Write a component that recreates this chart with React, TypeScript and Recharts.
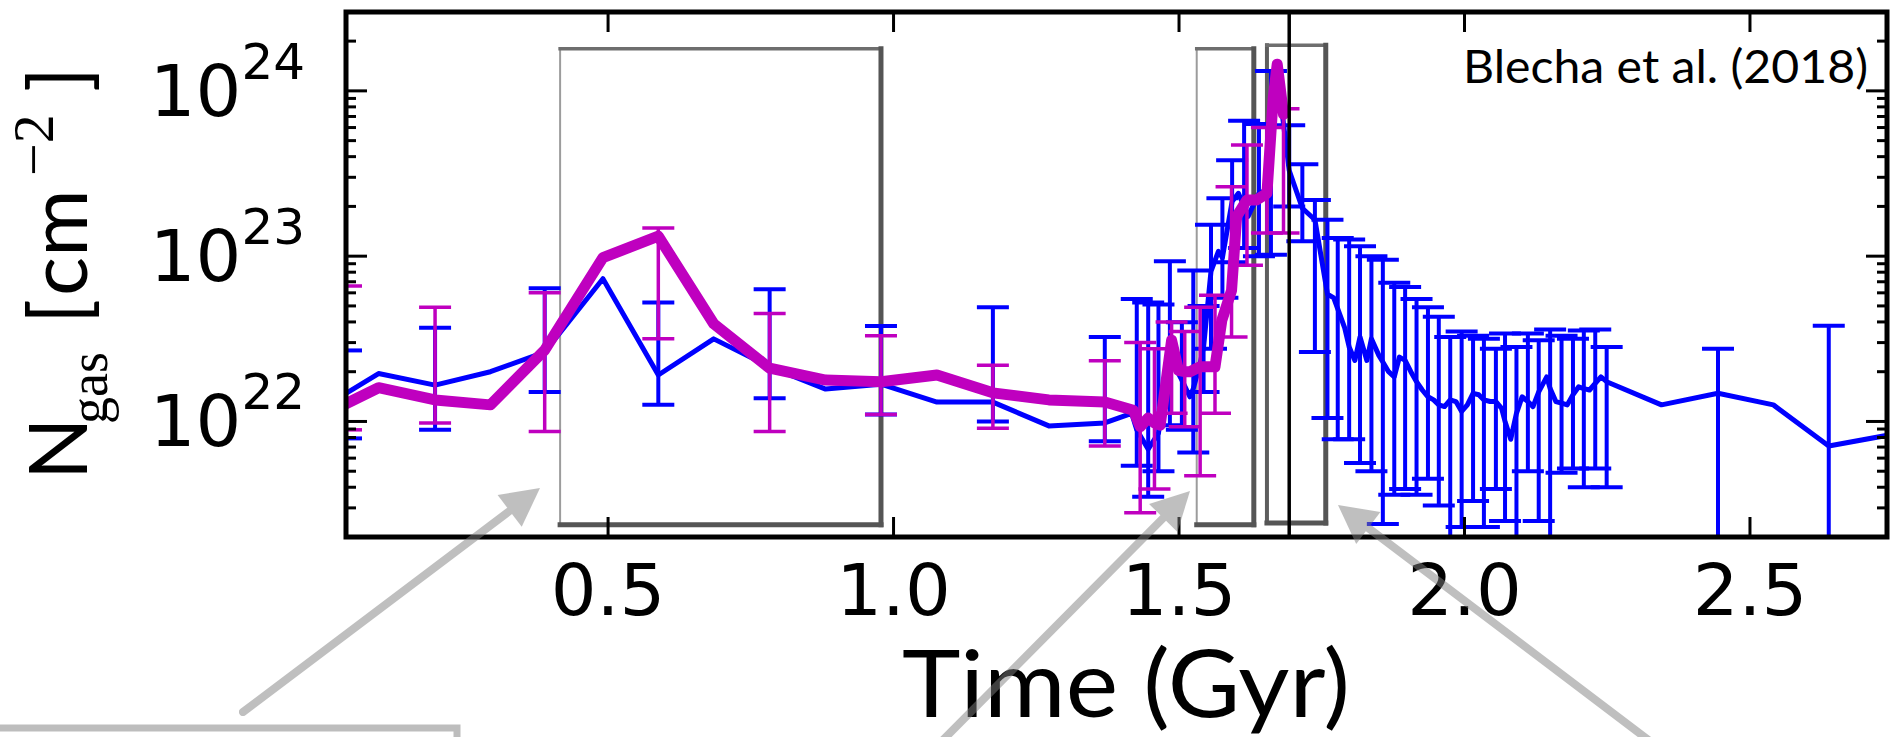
import React from 'react';
import { LineChart, Line, XAxis, YAxis, ErrorBar, ReferenceLine, ReferenceArea } from 'recharts';

// blue run: time (Gyr), column density and error bar ends (null = no bar)
const blueTime = [
  0.041, 0.098, 0.197, 0.294, 0.389, 0.491, 0.588, 0.685, 0.783, 0.881, 0.978, 1.076, 1.174, 1.272, 1.370,
  1.417, 1.426, 1.446, 1.464, 1.484, 1.505, 1.519, 1.525, 1.537, 1.543, 1.556, 1.569, 1.576, 1.593, 1.604,
  1.614, 1.621, 1.640, 1.652, 1.661, 1.672, 1.693, 1.716, 1.738, 1.760, 1.771, 1.778, 1.790, 1.798, 1.808,
  1.817, 1.829, 1.837, 1.850, 1.857, 1.867, 1.877, 1.886, 1.896, 1.906, 1.916, 1.926, 1.936, 1.946, 1.955,
  1.965, 1.975, 1.985, 1.995, 2.005, 2.015, 2.025, 2.034, 2.045, 2.055, 2.065, 2.071, 2.081, 2.091, 2.101,
  2.111, 2.120, 2.130, 2.144, 2.150, 2.160, 2.170, 2.180, 2.190, 2.200, 2.209, 2.219, 2.229, 2.239, 2.249,
  2.345, 2.444, 2.541, 2.638, 2.745,
];
const blueN = [
  1.48e22, 1.95e22, 1.66e22, 2.0e22, 2.63e22, 7.3e22, 1.91e22, 3.16e22, 2.14e22, 1.57e22, 1.68e22, 1.31e22, 1.31e22, 9.4e21, 9.8e21,
  1.12e22, 8.9e21, 6.8e21, 8.5e21, 2.45e22, 1.78e22, 1.41e22, 1.58e22, 2.24e22, 2.82e22, 8.1e22, 1.07e23, 9.8e22, 2.14e23, 2.4e23,
  2.0e23, 1.74e23, 2.4e23, 2.5e23, 5.0e23, 1.29e24, 3.3e23, 1.95e23, 1.66e23, 5.9e22, 5.6e22, 4.8e22, 3.7e22, 2.82e22, 2.34e22,
  3.24e22, 2.34e22, 3.16e22, 2.51e22, 2.29e22, 2.0e22, 1.86e22, 2.45e22, 2.34e22, 2.0e22, 1.74e22, 1.55e22, 1.41e22, 1.35e22, 1.26e22,
  1.23e22, 1.35e22, 1.32e22, 1.15e22, 1.26e22, 1.48e22, 1.45e22, 1.35e22, 1.32e22, 1.32e22, 1.2e22, 1.0e22, 7.8e21, 1.12e22, 1.41e22,
  1.32e22, 1.23e22, 1.51e22, 1.86e22, 1.58e22, 1.32e22, 1.29e22, 1.26e22, 1.45e22, 1.62e22, 1.58e22, 1.55e22, 1.7e22, 1.86e22, 1.74e22,
  1.26e22, 1.48e22, 1.26e22, 7.1e21, 8.3e21,
];
// 2.0e21 = bar runs off the bottom of the axis
const blueLow = [
  7.9e21, null, 8.9e21, null, 1.51e22, null, 1.26e22, null, 1.38e22, null, 1.1e22, null, 1.0e22, null, 7.6e21,
  null, 5.4e21, 3.5e21, 5.0e21, 9.5e21, 8.9e21, null, 6.5e21, null, 1.51e22, 2.75e22, null, 5.6e22, 9.2e22, null,
  1.12e23, null, 1.0e23, null, 1.02e23, null, 2.0e23, 1.23e23, 2.63e22, 1.05e22, null, 7.8e21, null, 7.8e21, null,
  5.6e21, null, 5.0e21, null, 2.4e21, null, 3.6e21, null, 3.9e21, null, 3.6e21, null, 4.5e21, null, 3.1e21,
  null, 2.0e21, null, 2.3e21, null, 3.3e21, null, 2.3e21, null, 3.9e21, null, 2.5e21, null, 2.0e21, null,
  5.0e21, null, 2.5e21, null, 2.0e21, null, 4.9e21, null, 5.2e21, null, 4.0e21, null, 5.2e21, null, 4.0e21,
  null, 2.0e21, null, 2.0e21, null,
];
const blueHigh = [
  2.69e22, null, 3.69e22, null, 6.4e22, null, 5.25e22, null, 6.31e22, null, 3.78e22, null, 4.9e22, null, 3.24e22,
  null, 5.5e22, 5.25e22, 5.1e22, 9.3e22, 3.98e22, null, 8.2e22, null, 5.0e22, 1.55e23, null, 2.24e23, 3.8e23, null,
  6.6e23, null, 6.3e23, null, 1.32e24, null, 6.2e23, 3.6e23, 2.19e23, 1.66e23, null, 1.29e23, null, 1.26e23, null,
  1.15e23, null, 1.0e23, null, 9.5e22, null, 6.9e22, null, 6.5e22, null, 5.5e22, null, 4.9e22, null, 4.3e22,
  null, 3.24e22, null, 3.5e22, null, 3.3e22, null, 3.16e22, null, 2.75e22, null, 3.4e22, null, 2.82e22, null,
  3.4e22, null, 3.1e22, null, 3.6e22, null, 3.3e22, null, 3.16e22, null, 3.55e22, null, 3.6e22, null, 2.82e22,
  null, 2.75e22, null, 3.8e22, null,
];

// magenta run
const magTime = [
  0.041, 0.098, 0.197, 0.294, 0.389, 0.491, 0.588, 0.685, 0.783, 0.881, 0.978, 1.076, 1.174, 1.272, 1.370,
  1.420, 1.432, 1.446, 1.457, 1.467, 1.487, 1.499, 1.510, 1.519, 1.537, 1.550, 1.563, 1.575, 1.592, 1.601,
  1.619, 1.636, 1.654, 1.665, 1.672, 1.683,
];
const magN = [
  1.28e22, 1.6e22, 1.35e22, 1.26e22, 2.7e22, 9.8e22, 1.32e23, 3.9e22, 2.1e22, 1.78e22, 1.74e22, 1.91e22, 1.49e22, 1.35e22, 1.31e22,
  1.17e22, 9.3e21, 1.05e22, 9.8e21, 9.5e21, 3.1e22, 2.04e22, 2.0e22, 2.0e22, 2.14e22, 2.14e22, 2.14e22, 4.1e22, 6.2e22, 1.74e23,
  2.19e23, 2.19e23, 2.4e23, 9.1e23, 1.45e24, 7.2e23,
];
const magLow = [
  8.9e21, null, 9.8e21, null, 8.7e21, null, 3.16e22, null, 8.7e21, null, 1.1e22, null, 9.1e21, null, 7.1e21,
  null, 2.8e21, null, 3.9e21, null, 1.12e22, null, 9.3e21, null, 4.7e21, null, 1.12e22, null, 3.24e22, null,
  8.8e22, null, 1.38e23, null, null, 1.38e23,
];
const magHigh = [
  6.6e22, null, 4.9e22, null, 6.0e22, null, 1.48e23, null, 4.5e22, null, 3.3e22, null, 2.19e22, null, 2.33e22,
  null, 3.0e22, null, 2.75e22, null, 4.0e22, null, 3.5e22, null, 4.9e22, null, 5.8e22, null, 2.63e23, null,
  4.7e23, null, 6.0e23, null, null, 7.8e23,
];

const xTicks = [0.5, 1.0, 1.5, 2.0, 2.5];
const yTicks = [
  2e21, 3e21, 4e21, 5e21, 6e21, 7e21, 8e21, 9e21,
  1e22, 2e22, 3e22, 4e22, 5e22, 6e22, 7e22, 8e22, 9e22,
  1e23, 2e23, 3e23, 4e23, 5e23, 6e23, 7e23, 8e23, 9e23,
  1e24, 2e24,
];

// highlighted windows and the marker line
const boxStart = [0.416, 1.531, 1.654];
const boxEnd = [0.978, 1.631, 1.757];
const boxTop = [1.8e24, 1.8e24, 1.89e24];
const boxBottom = [2.37e21, 2.37e21, 2.43e21];
const markerTime = 1.693;

const PL = 346;
const PR = 1887;
const PT = 12;
const PB = 537;

const makeRows = (t: number[], n: number[], lo: (number | null)[], hi: (number | null)[]) =>
  t.map((tt, i) => ({
    t: tt,
    n: n[i],
    err: lo[i] == null || hi[i] == null ? null : [n[i] - (lo[i] as number), (hi[i] as number) - n[i]],
  }));

const blueRows = makeRows(blueTime, blueN, blueLow, blueHigh);
const magRows = makeRows(magTime, magN, magLow, magHigh);

const YTick = (props: any) => {
  const { y, payload } = props;
  const v = payload.value;
  const exp = Math.round(Math.log10(v));
  const major = Math.abs(v / Math.pow(10, exp) - 1) < 1e-6;
  const len = major ? 21 : 10;
  return (
    <g>
      <line x1={PL} y1={y} x2={PL + len} y2={y} stroke="#000" strokeWidth={3} />
      <line x1={PR - len} y1={y} x2={PR} y2={y} stroke="#000" strokeWidth={3} />
      {major && (
        <text x={305} y={y + 25} textAnchor="end" fontFamily="DejaVu Sans" fontSize={72} fill="#000">
          10<tspan dy={-37} fontSize={50}>{exp}</tspan>
        </text>
      )}
    </g>
  );
};

const XTick = (props: any) => {
  const { x, payload } = props;
  return (
    <g>
      <line x1={x} y1={PB} x2={x} y2={PB - 20} stroke="#000" strokeWidth={3} />
      <line x1={x} y1={PT} x2={x} y2={PT + 20} stroke="#000" strokeWidth={3} />
      <text x={x} y={615} textAnchor="middle" fontFamily="DejaVu Sans" fontSize={72} fill="#000">
        {payload.value.toFixed(1)}
      </text>
    </g>
  );
};

const SketchBox = (props: any) => {
  const { x, y, width, height, darkLeft } = props;
  const r = x + width;
  const b = y + height;
  return (
    <g fill="none" strokeLinecap="square">
      <line x1={x} y1={y} x2={x} y2={b} stroke={darkLeft ? '#5e5e5e' : '#9c9c9c'} strokeWidth={darkLeft ? 4 : 2} />
      <line x1={x} y1={y} x2={r} y2={y} stroke="#6e6e6e" strokeWidth={3.5} />
      <line x1={r} y1={y} x2={r} y2={b} stroke="#555" strokeWidth={5} />
      <line x1={x} y1={b} x2={r} y2={b} stroke="#555" strokeWidth={5} />
    </g>
  );
};

const Arrow = ({ x1, y1, x2, y2 }: { x1: number; y1: number; x2: number; y2: number }) => {
  const dx = x2 - x1;
  const dy = y2 - y1;
  const d = Math.sqrt(dx * dx + dy * dy);
  const ux = dx / d;
  const uy = dy / d;
  const bx = x2 - ux * 38;
  const by = y2 - uy * 38;
  const head = `${x2},${y2} ${bx - uy * 20},${by + ux * 20} ${bx + uy * 20},${by - ux * 20}`;
  return (
    <g opacity={0.5}>
      <line x1={x1} y1={y1} x2={bx} y2={by} stroke="#808080" strokeWidth={8} strokeLinecap="round" />
      <polygon points={head} fill="#808080" />
    </g>
  );
};

export default function App() {
  return (
    <div style={{ position: 'absolute', left: 0, top: 0, width: 1890, height: 737, background: '#fff' }}>
      <LineChart width={1890} height={737} margin={{ top: PT, right: 1890 - PR, bottom: 0, left: 0 }}>
        <XAxis
          dataKey="t"
          type="number"
          domain={[0.041, 2.74]}
          allowDataOverflow
          ticks={xTicks}
          interval={0}
          tick={XTick}
          tickLine={false}
          axisLine={false}
          height={737 - PB}
        />
        <YAxis
          type="number"
          scale="log"
          domain={[2e21, 3e24]}
          allowDataOverflow
          ticks={yTicks}
          interval={0}
          tick={YTick}
          tickLine={false}
          axisLine={false}
          width={PL}
        />
        <Line
          data={blueRows}
          dataKey="n"
          stroke="#0000ff"
          strokeWidth={5}
          dot={false}
          activeDot={false}
          strokeLinejoin="round"
          isAnimationActive={false}
        >
          <ErrorBar dataKey="err" direction="y" width={16} stroke="#0000ff" strokeWidth={4} isAnimationActive={false} />
        </Line>
        <Line
          data={magRows}
          dataKey="n"
          stroke="#bf00bf"
          strokeWidth={11}
          dot={false}
          activeDot={false}
          strokeLinejoin="round"
          strokeLinecap="round"
          isAnimationActive={false}
        >
          <ErrorBar dataKey="err" direction="y" width={16} stroke="#bf00bf" strokeWidth={3.5} isAnimationActive={false} />
        </Line>
        <ReferenceLine x={markerTime} stroke="#000" strokeWidth={3.5} ifOverflow="visible" />
        {boxStart.map((s, i) => (
          <ReferenceArea
            key={i}
            x1={s}
            x2={boxEnd[i]}
            y1={boxBottom[i]}
            y2={boxTop[i]}
            ifOverflow="visible"
            shape={(p: any) => <SketchBox {...p} darkLeft={i === 2} />}
          />
        ))}
      </LineChart>
      <svg
        width={1890}
        height={737}
        style={{ position: 'absolute', left: 0, top: 0, pointerEvents: 'none' }}
      >
        {/* hide error-bar caps spilling left of the frame */}
        <rect x={307} y={PT} width={PL - 307} height={PB - PT} fill="#fff" />
        <rect x={PL} y={PT} width={PR - PL} height={PB - PT} fill="none" stroke="#000" strokeWidth={5} />
        <text x={1463} y={83} fontFamily="Lato" fontSize={46} textLength={405} lengthAdjust="spacingAndGlyphs" fill="#000">
          Blecha et al. (2018)
        </text>
        <text x={902} y={717} fontFamily="Lato" fontSize={93} textLength={448} lengthAdjust="spacingAndGlyphs" fill="#000">
          Time (Gyr)
        </text>
        <g transform="rotate(-90)" fill="#000">
          <text x={-480} y={87} fontFamily="Lato" fontSize={82}>N</text>
          <text x={-424} y={107} fontFamily="Liberation Serif" fontSize={54}>gas</text>
          <text x={-324} y={87} fontFamily="Lato" fontSize={82}>[</text>
          <text x={-296} y={87} fontFamily="Lato" fontSize={82}>cm</text>
          <text x={-176} y={53} fontFamily="Liberation Serif" fontSize={58}>−2</text>
          <text x={-92} y={87} fontFamily="Lato" fontSize={82}>]</text>
        </g>
        <Arrow x1={243} y1={712} x2={540} y2={488} />
        <Arrow x1={938} y1={745} x2={1190} y2={491} />
        <Arrow x1={1655} y1={745} x2={1338} y2={505} />
        <polyline points="0,728 457,728 457,745" fill="none" stroke="#bdbdbd" strokeWidth={7} />
      </svg>
    </div>
  );
}
